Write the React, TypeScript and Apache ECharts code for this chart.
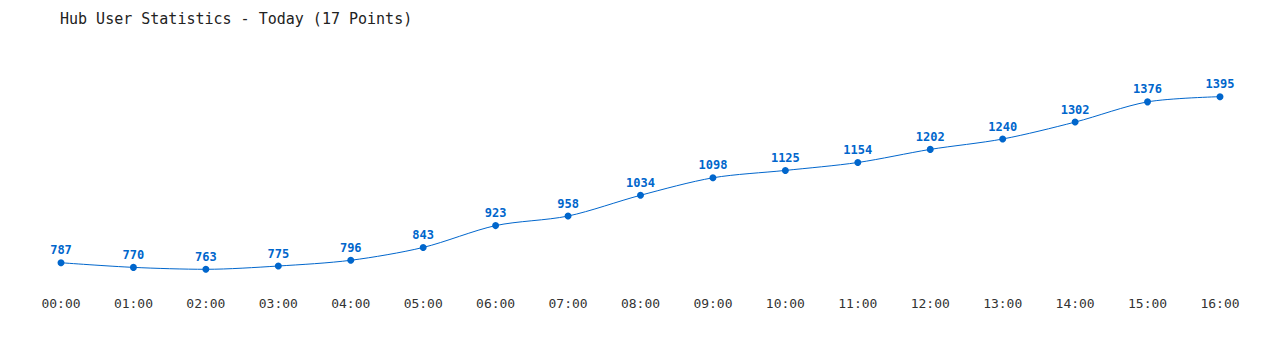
import React, { useEffect, useRef } from "react";
import * as echarts from "echarts";

const hours = ["00:00","01:00","02:00","03:00","04:00","05:00","06:00","07:00","08:00","09:00","10:00","11:00","12:00","13:00","14:00","15:00","16:00"];
const users = [787, 770, 763, 775, 796, 843, 923, 958, 1034, 1098, 1125, 1154, 1202, 1240, 1302, 1376, 1395];
const titleText = "Hub User Statistics - Today (17 Points)";

const MONO = "'DejaVu Sans Mono', 'Liberation Mono', monospace";

export default function App() {
  const ref = useRef<HTMLDivElement>(null);
  useEffect(() => {
    if (!ref.current) return;
    const chart = echarts.init(ref.current, null, { renderer: "svg" });
    chart.setOption({
      animation: false,
      backgroundColor: "#ffffff",
      title: {
        text: titleText,
        left: 55,
        top: 6,
        textStyle: { fontFamily: MONO, fontSize: 15, fontWeight: "normal", color: "#222222" },
      },
      grid: { left: 61, right: 60, top: 68, height: 218.5 },
      xAxis: {
        type: "category",
        data: hours,
        boundaryGap: false,
        axisLine: { show: false },
        axisTick: { show: false },
        splitLine: { show: false },
        axisLabel: { fontFamily: MONO, fontSize: 13, color: "#333333", margin: 10 },
      },
      yAxis: {
        type: "value",
        min: 700,
        max: 1500,
        show: false,
        splitLine: { show: false },
      },
      series: [
        {
          type: "line",
          data: users,
          smooth: 0.3,
          symbol: "circle",
          symbolSize: 7,
          lineStyle: { color: "#0066cc", width: 1 },
          itemStyle: { color: "#0066cc" },
          label: {
            show: true,
            position: "top",
            distance: 3,
            fontFamily: MONO,
            fontSize: 12,
            fontWeight: "bold",
            color: "#0066cc",
          },
        },
      ],
    });
    return () => chart.dispose();
  }, []);
  return (
    <div
      ref={ref}
      style={{ position: "fixed", left: 0, top: 0, width: 1280, height: 350 }}
    />
  );
}
